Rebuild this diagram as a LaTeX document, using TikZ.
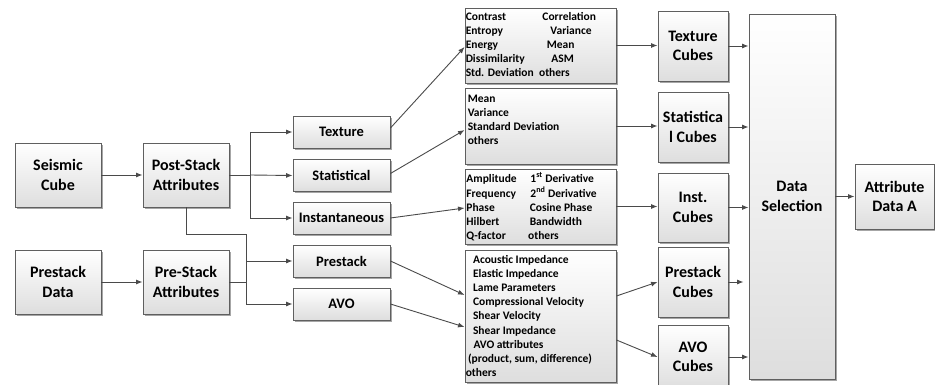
\documentclass[tikz,border=0pt]{standalone}
\usepackage{fontspec}
\setmainfont{Carlito}
\usetikzlibrary{arrows.meta,shadows,calc}

\definecolor{boxline}{HTML}{5F5F5F}
\definecolor{wire}{HTML}{4A4A4A}

\tikzset{
  boxbase/.style={draw=boxline, line width=0.9pt, top color=white, bottom color=black!13,
    drop shadow={shadow xshift=1.6pt, shadow yshift=-1.6pt, opacity=0.35, fill=black},
    inner sep=0pt, align=center},
  bigbox/.style={boxbase, font=\bfseries\fontsize{16}{19.5}\selectfont},
  smallbox/.style={boxbase, minimum width=97, minimum height=32,
    font=\bfseries\fontsize{14.5}{17}\selectfont},
  listbox/.style={boxbase, minimum width=151},
  listtext/.style={inner sep=0pt, anchor=north west, align=left,
    font=\bfseries\fontsize{11.5}{14.2}\selectfont},
  cubebox/.style={bigbox, minimum width=70},
  wireline/.style={draw=wire, line width=0.9pt},
  arr/.style={wireline, -{Latex[length=6.5pt,width=5pt]}}
}

\begin{document}
\begin{tikzpicture}[x=1pt, y=-1pt]
\useasboundingbox (0,0) rectangle (935,385);

% source data and attribute groups
\node[bigbox, minimum width=86, minimum height=64] (sc) at (58,175) {Seismic\\Cube};
\node[bigbox, minimum width=86, minimum height=64] (ps) at (186,175) {Post-Stack\\Attributes};
\node[bigbox, minimum width=86, minimum height=64] (pd) at (58,282) {Prestack\\Data};
\node[bigbox, minimum width=86, minimum height=64] (pa) at (186,282) {Pre-Stack\\Attributes};

% attribute families
\node[smallbox] (tex)  at (341.5,132)   {Texture};
\node[smallbox] (stat) at (341.5,175.5) {Statistical};
\node[smallbox] (inst) at (341.5,218)   {Instantaneous};
\node[smallbox] (prs)  at (341.5,261)   {Prestack};
\node[smallbox] (avo)  at (341.5,304)   {AVO};

% attribute lists
\node[listbox, minimum height=75]  (tl) at (540.5,45.5) {};
\node[listbox, minimum height=76]  (sl) at (540.5,126) {};
\node[listbox, minimum height=75]  (il) at (540.5,206.5) {};
\node[listbox, minimum height=132] (pl) at (540.5,316) {};

\node[listtext] (tlt) at ($(tl.north west)+(1,2.5)$) {%
  \strut\makebox[76.7pt][l]{Contrast}Correlation\\
  \makebox[84.7pt][l]{Entropy}Variance\\
  \makebox[81pt][l]{Energy}Mean\\
  \makebox[85.7pt][l]{Dissimilarity}ASM\\
  \makebox[73.3pt][l]{Std. Deviation}others};
\node[listtext] (slt) at ($(sl.north west)+(3,4.5)$) {%
  \strut Mean\\
  Variance\\
  Standard Deviation\\
  others};
\node[listtext] (ilt) at ($(il.north west)+(1.7,3.4)$) {%
  \strut\makebox[64pt][l]{Amplitude}1\textsuperscript{st} Derivative\\
  \makebox[64pt][l]{Frequency}2\textsuperscript{nd} Derivative\\
  \makebox[63.3pt][l]{Phase}Cosine Phase\\
  \makebox[63.3pt][l]{Hilbert}Bandwidth\\
  \makebox[61.7pt][l]{Q-factor}others};
\node[listtext] (plt) at ($(pl.north west)+(1,3.4)$) {%
  \strut\hspace*{7.3pt}Acoustic Impedance\\
  \hspace*{7.3pt}Elastic Impedance\\
  \hspace*{7.3pt}Lame Parameters\\
  \hspace*{7.3pt}Compressional Velocity\\
  \hspace*{7.3pt}Shear Velocity\\
  \hspace*{7.3pt}Shear Impedance\\
  \hspace*{7.8pt}AVO attributes\\
  \hspace*{2.3pt}(product, sum, difference)\\
  others};

% attribute cubes
\node[cubebox, minimum height=70] (tc)  at (693,46)    {Texture\\Cubes};
\node[cubebox, minimum height=70] (stc) at (693,127)   {Statistica\\l Cubes};
\node[cubebox, minimum height=69] (ic)  at (693,207.5) {Inst.\\Cubes};
\node[cubebox, minimum height=70] (pc)  at (693,282)   {Prestack\\Cubes};
\node[cubebox, minimum height=64] (ac)  at (693,357)   {AVO\\Cubes};

% selection and output
\node[bigbox, minimum width=86, minimum height=365] (ds) at (792,196.5) {Data\\Selection};
\node[bigbox, minimum width=79, minimum height=65] (at) at (894.5,196.5) {Attribute\\Data A};

% inputs to attribute groups
\draw[arr] (sc.east) -- (ps.west);
\draw[arr] (pd.east) -- (pa.west);

% post-stack branches
\coordinate (j1) at (250,175);
\draw[wireline] (ps.east) -- (j1);
\draw[arr] (j1) |- (tex.west);
\draw[arr] (j1) -- (stat.west);
\draw[arr] (j1) |- (inst.west);

% pre-stack branches
\coordinate (j2) at (246,234);
\draw[wireline] (ps.south) |- (j2);
\draw[arr] (j2) |- (avo.west);
\draw[wireline] (pa.east) -- (pa.east -| j2);
\draw[arr] (j2 |- prs.west) -- (prs.west);

% families to lists
\draw[arr] ($(tex.east)+(0,-4)$)  -- ($(tl.west)+(0,1.5)$);
\draw[arr] ($(stat.east)+(0,-2)$) -- ($(sl.west)+(0,4)$);
\draw[arr] (inst.east) -- ($(il.west)+(0,1.5)$);
\draw[arr] (prs.east) -- ($(pl.west)+(0,-21)$);
\draw[arr] (avo.east) -- ($(pl.west)+(0,11)$);

% lists to cubes
\draw[arr] (tl.east) -- (tl.east -| tc.west);
\draw[arr] (sl.east) -- (sl.east -| stc.west);
\draw[arr] (il.east) -- (il.east -| ic.west);
\draw[arr] ($(pl.east)+(0,-20)$) -- (pc.west);
\draw[arr] ($(pl.east)+(0,24)$) -- (ac.west);

% cubes to selection
\draw[arr] (tc.east) -- (tc.east -| ds.west);
\draw[arr] (stc.east) -- (stc.east -| ds.west);
\draw[arr] (ic.east) -- (ic.east -| ds.west);
\draw[arr, shorten >=5pt] (pc.east) -- (pc.east -| ds.west);
\draw[arr] (ac.east) -- (ac.east -| ds.west);

% selection to output
\draw[arr] (ds.east) -- (at.west);
\end{tikzpicture}
\end{document}
